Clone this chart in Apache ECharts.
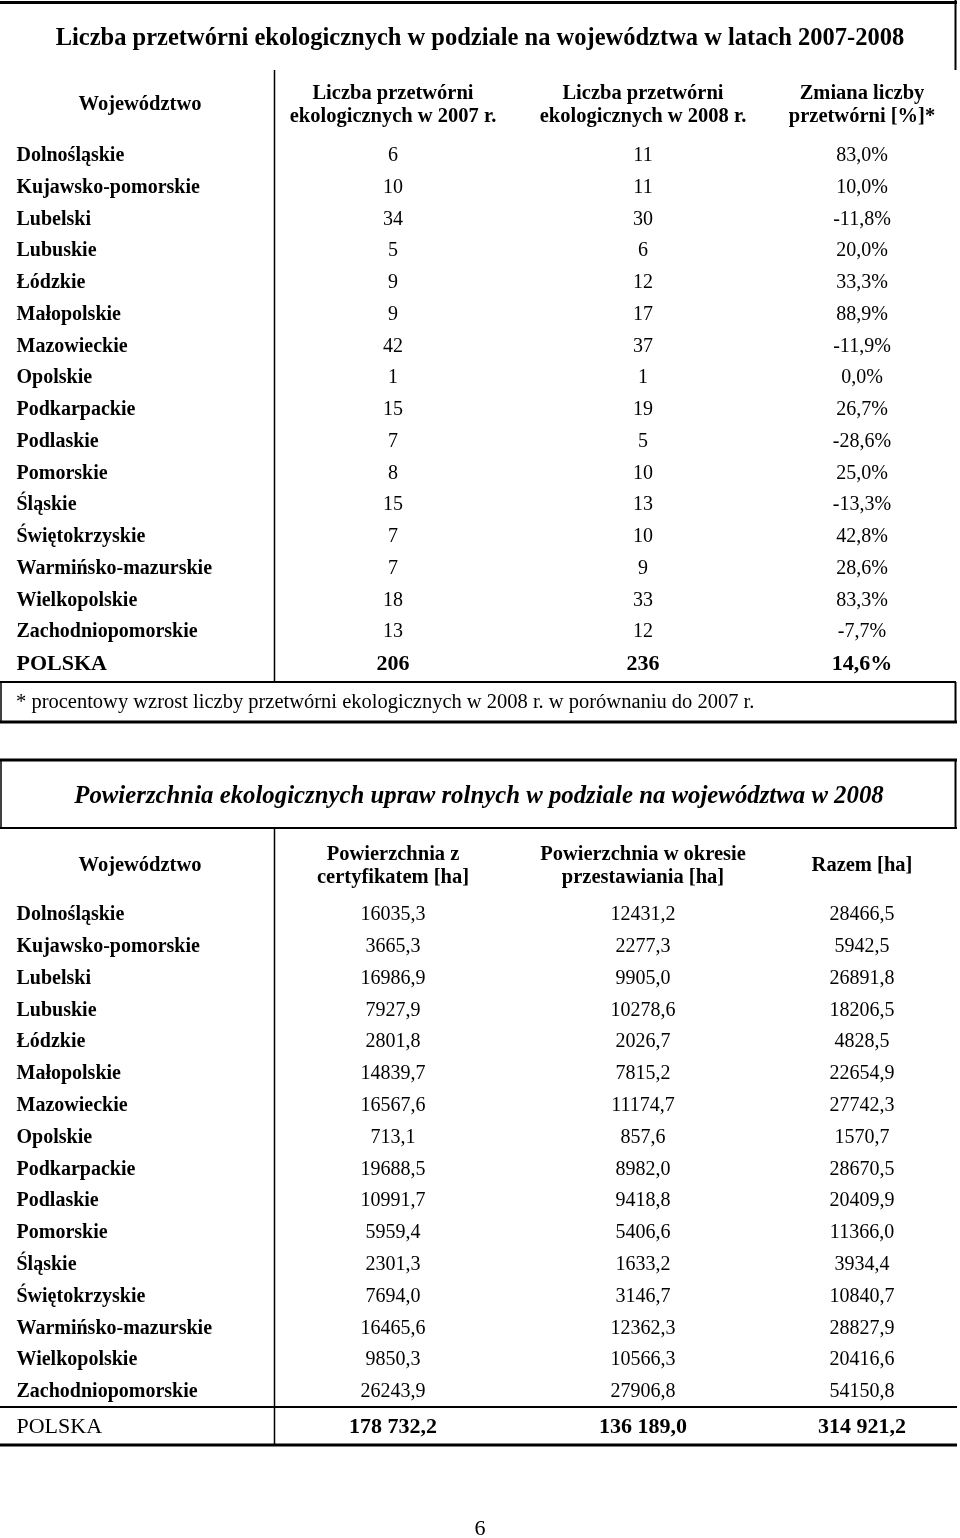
<!DOCTYPE html>
<html>
<head>
<meta charset="utf-8">
<script src="https://cdn.jsdelivr.net/npm/echarts@6/dist/echarts.min.js"></script>
<style>
html,body{margin:0;padding:0;background:#fff;}
#chart{width:960px;height:1538px;}
</style>
</head>
<body>
<div id="chart"></div>
<script>
// ---------- DATA ----------
const regions = ['Dolnośląskie','Kujawsko-pomorskie','Lubelski','Lubuskie','Łódzkie','Małopolskie','Mazowieckie','Opolskie','Podkarpackie','Podlaskie','Pomorskie','Śląskie','Świętokrzyskie','Warmińsko-mazurskie','Wielkopolskie','Zachodniopomorskie'];
const plants2007 = [6,10,34,5,9,9,42,1,15,7,8,15,7,7,18,13];
const plants2008 = [11,11,30,6,12,17,37,1,19,5,10,13,10,9,33,12];
const plantsChange = [83.0,10.0,-11.8,20.0,33.3,88.9,-11.9,0.0,26.7,-28.6,25.0,-13.3,42.8,28.6,83.3,-7.7];
const plantsTotal = [206,236,14.6];

const areaCert = [16035.3,3665.3,16986.9,7927.9,2801.8,14839.7,16567.6,713.1,19688.5,10991.7,5959.4,2301.3,7694.0,16465.6,9850.3,26243.9];
const areaConv = [12431.2,2277.3,9905.0,10278.6,2026.7,7815.2,11174.7,857.6,8982.0,9418.8,5406.6,1633.2,3146.7,12362.3,10566.3,27906.8];
const areaTotal = [28466.5,5942.5,26891.8,18206.5,4828.5,22654.9,27742.3,1570.7,28670.5,20409.9,11366.0,3934.4,10840.7,28827.9,20416.6,54150.8];
const areaSum = [178732.2,136189.0,314921.2];

const totalLabel = ['POLSKA'];
const title1 = 'Liczba przetwórni ekologicznych w podziale na województwa w latach 2007-2008';
const headers1 = ['Województwo','Liczba przetwórni\nekologicznych w 2007 r.','Liczba przetwórni\nekologicznych w 2008 r.','Zmiana liczby\nprzetwórni [%]*'];
const footnote1 = '* procentowy wzrost liczby przetwórni ekologicznych w 2008 r. w porównaniu do 2007 r.';
const title2 = 'Powierzchnia ekologicznych upraw rolnych w podziale na województwa w 2008';
const headers2 = ['Województwo','Powierzchnia z\ncertyfikatem [ha]','Powierzchnia w okresie\nprzestawiania [ha]','Razem [ha]'];
const pageNumber = '6';

// ---------- FORMATTERS ----------
const fmt1 = v => v.toFixed(1).replace('.', ',');
const fmtPct = v => fmt1(v) + '%';
const fmtSpace = v => {
  const s = v.toFixed(1).split('.');
  return s[0].replace(/\B(?=(\d{3})+(?!\d))/g, ' ') + ',' + s[1];
};

// ---------- LAYOUT ----------
const FONT = 'Liberation Serif';
const COL_X = [16, 393, 643, 862]; // column anchors on the 0..960 x scale
const W = 960;

const grids = [
  {left:0, width:W, top:140.1, height:508},   // table 1 body
  {left:0, width:W, top:647.5, height:34},    // table 1 total
  {left:0, width:W, top:899.1, height:508.8}, // table 2 body
  {left:0, width:W, top:1409, height:36}      // table 2 total
];
const xAxes = grids.map((g,i)=>({gridIndex:i,type:'value',min:0,max:W,show:false}));
const yAxes = [
  {gridIndex:0,type:'category',data:regions,inverse:true,show:false},
  {gridIndex:1,type:'category',data:totalLabel,inverse:true,show:false},
  {gridIndex:2,type:'category',data:regions,inverse:true,show:false},
  {gridIndex:3,type:'category',data:totalLabel,inverse:true,show:false}
];

function textSeries(gi, col, cats, texts, weight, size){
  const left = col === 0;
  return {
    type:'scatter', xAxisIndex:gi, yAxisIndex:gi, silent:true,
    symbolSize:1, itemStyle:{color:'rgba(0,0,0,0)'},
    emphasis:{disabled:true},
    data: cats.map((c,i)=>({value:[COL_X[col], c], name:texts[i]})),
    label:{
      show:true,
      position: left ? 'right' : 'inside',
      distance: 0,
      formatter: p => p.name,
      color:'#000',
      opacity:1,
      textBorderWidth:0,
      fontFamily:FONT,
      fontWeight:weight,
      fontSize:size
    }
  };
}

const series = [
  // table 1
  textSeries(0,0,regions,regions,'bold',20),
  textSeries(0,1,regions,plants2007.map(String),'normal',20),
  textSeries(0,2,regions,plants2008.map(String),'normal',20),
  textSeries(0,3,regions,plantsChange.map(fmtPct),'normal',20),
  textSeries(1,0,totalLabel,totalLabel,'bold',22),
  textSeries(1,1,totalLabel,[String(plantsTotal[0])],'bold',22),
  textSeries(1,2,totalLabel,[String(plantsTotal[1])],'bold',22),
  textSeries(1,3,totalLabel,[fmtPct(plantsTotal[2])],'bold',22),
  // table 2
  textSeries(2,0,regions,regions,'bold',20),
  textSeries(2,1,regions,areaCert.map(fmt1),'normal',20),
  textSeries(2,2,regions,areaConv.map(fmt1),'normal',20),
  textSeries(2,3,regions,areaTotal.map(fmt1),'normal',20),
  textSeries(3,0,totalLabel,totalLabel,'normal',22),
  textSeries(3,1,totalLabel,[fmtSpace(areaSum[0])],'bold',22),
  textSeries(3,2,totalLabel,[fmtSpace(areaSum[1])],'bold',22),
  textSeries(3,3,totalLabel,[fmtSpace(areaSum[2])],'bold',22)
];

// ---------- DECORATION (rules, titles, headers) ----------
function line(x1,y1,x2,y2,w){
  return {type:'line',silent:true,shape:{x1,y1,x2,y2},style:{stroke:'#000',lineWidth:w}};
}
const HEAD_FONT = 'bold 20.5px "'+FONT+'"';
function text(t,x,y,opts){
  return {type:'text',silent:true,x,y,style:Object.assign({
    text:t, fill:'#000', font:HEAD_FONT,
    textAlign:'center', textVerticalAlign:'middle', align:'center', verticalAlign:'middle', lineHeight:23
  }, opts||{})};
}
const headerY1 = 105, headerY2 = 866;
const graphics = [
  // table 1 frame
  line(0,2.5,957,2.5,3),
  line(955.5,0,955.5,70,2),
  line(274.5,70,274.5,683,1.5),
  line(0,682,956,682,2),
  line(1,682,1,722,1.5),
  line(955.5,682,955.5,722,2),
  line(0,722,957,722,3),
  // table 2 frame
  line(0,760,957,760,3),
  line(1,760,1,828,1.5),
  line(955.5,760,955.5,828,2),
  line(0,828,957,828,2),
  line(274.5,828,274.5,1445,1.5),
  line(0,1407,957,1407,2),
  line(0,1445,957,1445,3),
  // titles
  text(title1,480,39,{font:'bold 24.5px "'+FONT+'"'}),
  text(title2,479,797,{font:'italic bold 24.8px "'+FONT+'"'}),
  // headers table 1
  text(headers1[0],140,headerY1),
  text(headers1[1],COL_X[1],headerY1),
  text(headers1[2],COL_X[2],headerY1),
  text(headers1[3],COL_X[3],headerY1),
  // footnote
  text(footnote1,16,703,{font:'20.5px "'+FONT+'"',textAlign:'left',align:'left'}),
  // headers table 2
  text(headers2[0],140,headerY2),
  text(headers2[1],COL_X[1],headerY2),
  text(headers2[2],COL_X[2],headerY2),
  text(headers2[3],COL_X[3],headerY2),
  // page number
  text(pageNumber,480,1529,{font:'22px "'+FONT+'"'})
];

const chart = echarts.init(document.getElementById('chart'), null, {renderer:'canvas'});
chart.setOption({
  animation:false,
  backgroundColor:'#fff',
  grid:grids,
  xAxis:xAxes,
  yAxis:yAxes,
  series:series,
  graphic:graphics
});
</script>
</body>
</html>
